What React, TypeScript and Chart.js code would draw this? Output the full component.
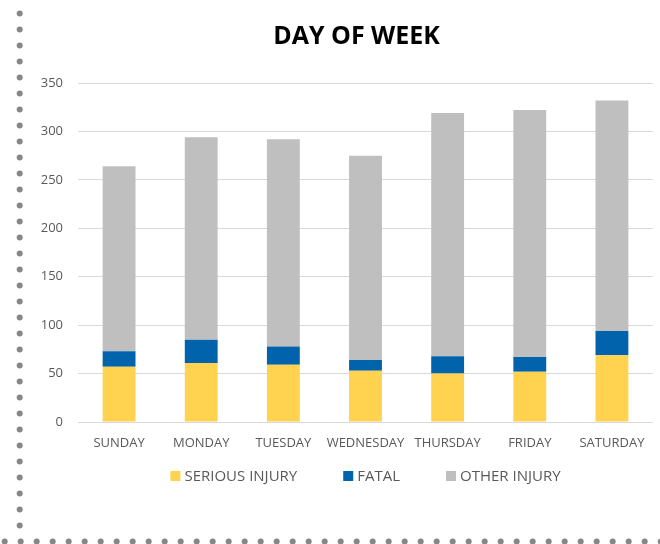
import React, { useEffect, useRef } from "react";
import { Chart, registerables } from "chart.js";

Chart.register(...registerables);

const days = ["SUNDAY", "MONDAY", "TUESDAY", "WEDNESDAY", "THURSDAY", "FRIDAY", "SATURDAY"];
const seriousInjury = [57, 61, 59, 53, 50, 52, 69];
const fatal = [16, 24, 19, 11, 18, 15, 25];
const otherInjury = [191, 209, 214, 211, 251, 255, 238];
const yTicks = [0, 50, 100, 150, 200, 250, 300, 350];
const seriesNames = ["SERIOUS INJURY", "FATAL", "OTHER INJURY"];
const seriesColors = ["#FFD24F", "#0063AB", "#BFBFBF"];
const chartTitle = "DAY OF WEEK";

const FONT = "'Open Sans', 'DejaVu Sans', sans-serif";
const TEXT = "#595959";

const dottedBorder = {
  id: "dottedBorder",
  beforeDraw(chart: any) {
    const ctx = chart.ctx;
    ctx.save();
    ctx.fillStyle = "#878787";
    const r = 3;
    const by = 541.5;
    for (let y = by - 16; y > 5; y -= 16) {
      ctx.beginPath();
      ctx.arc(19.7, y, r, 0, Math.PI * 2);
      ctx.fill();
    }
    for (let x = 4.7; x < chart.width + 4; x += 16) {
      ctx.beginPath();
      ctx.arc(x, by, r, 0, Math.PI * 2);
      ctx.fill();
    }
    ctx.restore();
  },
};

const customTitle = {
  id: "customTitle",
  afterDraw(chart: any) {
    const ctx = chart.ctx;
    ctx.save();
    ctx.font = `bold 25px ${FONT}`;
    ctx.fillStyle = "#000000";
    ctx.textAlign = "center";
    ctx.textBaseline = "middle";
    ctx.fillText(chartTitle, 356.5, 37);
    ctx.restore();
  },
};

const customLegend = {
  id: "customLegend",
  afterDraw(chart: any) {
    const ctx = chart.ctx;
    const area = chart.chartArea;
    const ds = chart.data.datasets;
    ctx.save();
    ctx.font = `15px ${FONT}`;
    ctx.textBaseline = "middle";
    ctx.textAlign = "left";
    const box = 10;
    const gapText = 4;
    const gapItem = 46;
    const widths = ds.map((d: any) => box + gapText + ctx.measureText(d.label).width);
    const total = widths.reduce((a: number, b: number) => a + b, 0) + gapItem * (ds.length - 1);
    let x = (area.left + area.right) / 2 - total / 2;
    const y = area.bottom + 54;
    ds.forEach((d: any, i: number) => {
      ctx.fillStyle = d.backgroundColor;
      ctx.fillRect(x, y - 5, box, box);
      ctx.fillStyle = TEXT;
      ctx.fillText(d.label, x + box + gapText, y + 1);
      x += widths[i] + gapItem;
    });
    ctx.restore();
  },
};

export default function App() {
  const ref = useRef<HTMLCanvasElement | null>(null);

  useEffect(() => {
    if (!ref.current) return;
    document.body.style.margin = "0";
    const chart = new Chart(ref.current, {
      type: "bar",
      data: {
        labels: days,
        datasets: [
          { label: seriesNames[0], data: seriousInjury, backgroundColor: seriesColors[0] },
          { label: seriesNames[1], data: fatal, backgroundColor: seriesColors[1] },
          { label: seriesNames[2], data: otherInjury, backgroundColor: seriesColors[2] },
        ],
      },
      options: {
        responsive: false,
        animation: false,
        devicePixelRatio: 1,
        layout: { padding: { left: 30, right: 7, top: 83, bottom: 0 } },
        datasets: {
          bar: { categoryPercentage: 1, barPercentage: 0.4, borderWidth: 0 },
        },
        plugins: {
          legend: { display: false },
          tooltip: { enabled: false },
          title: { display: false },
        },
        scales: {
          x: {
            stacked: true,
            grid: { display: false },
            border: { display: false },
            ticks: { color: TEXT, font: { family: FONT, size: 13 }, padding: 5, maxRotation: 0, autoSkip: false },
            afterFit: (axis: any) => {
              axis.height = 122;
            },
          },
          y: {
            stacked: true,
            min: 0,
            max: 350,
            grid: { color: "#D9D9D9", lineWidth: 1, drawTicks: false },
            border: { display: false },
            ticks: { color: TEXT, font: { family: FONT, size: 13 }, padding: 15, stepSize: 50 },
            afterBuildTicks: (axis: any) => {
              axis.ticks = yTicks.map((v) => ({ value: v }));
            },
            afterFit: (axis: any) => {
              axis.width = 48;
            },
          },
        },
      },
      plugins: [dottedBorder, customTitle, customLegend],
    });
    return () => chart.destroy();
  }, []);

  return (
    <canvas
      ref={ref}
      width={660}
      height={544}
      style={{ position: "fixed", left: 0, top: 0, display: "block", width: 660, height: 544 }}
    />
  );
}
